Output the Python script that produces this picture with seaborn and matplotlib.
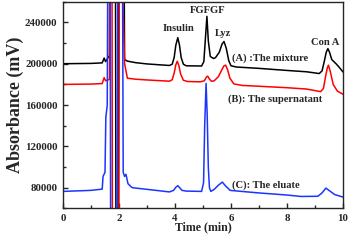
import numpy as np
import pandas as pd
import matplotlib
matplotlib.use("Agg")
import matplotlib.pyplot as plt
import seaborn as sns
from matplotlib.ticker import MultipleLocator

# ---- data ----
t_a = [0.0, 1.0, 1.4, 1.47, 1.52, 1.57, 1.62, 1.66, 1.68, 1.86, 1.9, 1.96, 2.0, 2.14, 2.2, 2.3,
       2.6, 3.0, 3.8, 3.9, 3.97, 4.03, 4.1, 4.16, 4.22, 4.3, 4.4, 4.95, 5.03, 5.08, 5.14, 5.19,
       5.26, 5.38, 5.45, 5.58, 5.68, 5.75, 5.83, 5.92, 6.0, 6.2, 7.0, 8.0, 8.7, 9.15, 9.25, 9.33,
       9.4, 9.46, 9.52, 9.6, 9.75, 9.85, 10.0]
y_a = [200000, 200300, 200800, 205500, 202000, 204000, 207000, 206000, 500000, 500000, -100000, -100000,
       500000, 500000, 204000, 202500,
       201000, 199800, 198300, 199500, 206000, 218000, 225200, 218000, 206000, 199500, 198000, 197800,
       202000, 222000, 245800, 222000,
       207000, 205000, 206000, 211000, 219000, 221500, 215000, 203000, 198000, 196800, 195500, 193500,
       192200, 190500, 193000, 202000,
       211000, 214600, 211000, 204000, 200000, 197000, 192000]

t_b = [0.0, 1.0, 1.4, 1.47, 1.52, 1.58, 1.66, 1.7, 1.74, 1.77, 1.99, 2.02, 2.1, 2.2, 2.3, 2.6,
       3.0, 3.8, 3.9, 3.97, 4.03, 4.08, 4.14, 4.2, 4.3, 4.45, 4.9, 5.05, 5.12, 5.17, 5.22, 5.3,
       5.4, 5.55, 5.67, 5.75, 5.81, 5.88, 5.96, 6.1, 6.4, 7.0, 8.0, 8.7, 9.2, 9.3, 9.38, 9.44,
       9.48, 9.55, 9.65, 9.8, 10.0]
y_b = [180000, 180300, 180800, 186500, 183500, 184000, 185000, 500000, 500000, -100000, -100000,
       500000, 300000, 200000, 186000, 185000,
       184300, 183100, 184500, 191000, 199000, 202400, 198000, 190000, 184000, 182800, 182500, 183500,
       187000, 188000, 185500, 183000,
       183500, 187500, 194000, 198000, 198600, 194000, 186000, 180500, 179000, 178200, 176800, 175500,
       173000, 176000, 188000, 196000,
       198600, 192000, 180000, 173500, 170500]

t_c = [0.0, 1.0, 1.4, 1.43, 1.5, 1.53, 1.58, 1.63, 1.67, 1.71, 1.93, 1.97, 2.1, 2.15, 2.2, 2.25,
       2.32, 2.45, 2.5, 3.0, 3.8, 3.95, 4.03, 4.1, 4.17, 4.25, 4.4, 4.95, 5.02, 5.06, 5.11, 5.15,
       5.19, 5.23, 5.28, 5.4, 5.55, 5.69, 5.8, 5.97, 7.0, 8.0, 8.5, 9.1, 9.25, 9.39, 9.5, 9.7, 10.0]
y_c = [76500, 77500, 78700, 91000, 95000, 148000, 160000, 500000, 500000, -100000, -100000, 500000,
       500000, 95000, 91000, 93000, 84000, 80500, 80000, 78500, 76000, 77500, 80500, 82000, 80000,
       77500, 76800, 76500, 85000, 140000, 181000, 150000,
       100000, 80000, 76500, 78500, 82500, 85500, 82000, 77500, 75000, 73000, 71600, 71800, 75000,
       79700, 77500, 73500, 71000]

series_names = ["A", "B", "C"]
series_colors = ["#000000", "#ff0000", "#1a35ff"]

x_ticks = [0, 2, 4, 6, 8, 10]
y_ticks = [80000, 120000, 160000, 200000, 240000]

peak_labels = ["Insulin", "FGFGF", "Lyz", "Con A"]
peak_pos = [(4.11, 233900), (5.17, 251600), (5.73, 229100), (9.36, 221000)]
trace_labels = ["(A) :The mixture", "(B): The supernatant", "(C): The eluate"]
trace_pos = [(6.04, 205000), (5.89, 165500), (6.02, 82600)]

df = pd.concat([
    pd.DataFrame({"t": t_a, "v": y_a, "s": "A"}),
    pd.DataFrame({"t": t_b, "v": y_b, "s": "B"}),
    pd.DataFrame({"t": t_c, "v": y_c, "s": "C"}),
], ignore_index=True)

sns.set_style("ticks")
plt.rcParams["font.family"] = ["Liberation Serif", "DejaVu Serif"]
plt.rcParams["font.weight"] = "bold"
plt.rcParams["axes.labelweight"] = "bold"

fig = plt.figure(figsize=(3.5, 2.41), dpi=100)
ax = fig.add_axes([0.18, 0.135, 0.80, 0.858])

sns.lineplot(data=df, x="t", y="v", hue="s", palette=dict(zip(series_names, series_colors)),
             estimator=None, sort=False, legend=False, linewidth=1.1, ax=ax)

ax.set_xlim(0, 10)
ax.set_ylim(60000, 260000)
ax.set_xticks(x_ticks)
ax.set_yticks(y_ticks)
ax.xaxis.set_minor_locator(MultipleLocator(1))
ax.yaxis.set_minor_locator(MultipleLocator(20000))
ax.tick_params(which="both", direction="in", top=False, right=False, width=1.0)
ax.tick_params(which="major", length=3.5, labelsize=7.8, pad=4)
ax.tick_params(which="minor", length=2)
for lab in ax.get_xticklabels() + ax.get_yticklabels():
    lab.set_fontweight("bold")
for sp in ax.spines.values():
    sp.set_visible(True)
    sp.set_linewidth(1.0)

ax.set_xlabel("Time (min)", fontsize=8.6, fontweight="bold", labelpad=-1)
ax.set_ylabel("Absorbance (mV)", fontsize=13, fontweight="bold", labelpad=1)

for lab, (x, y) in zip(peak_labels, peak_pos):
    ax.text(x, y, lab, ha="center", va="center", fontsize=7.6, fontweight="bold")
for lab, (x, y) in zip(trace_labels, trace_pos):
    ax.text(x, y, lab, ha="left", va="center", fontsize=7.6, fontweight="bold")

fig.savefig("out.png", dpi=100)
